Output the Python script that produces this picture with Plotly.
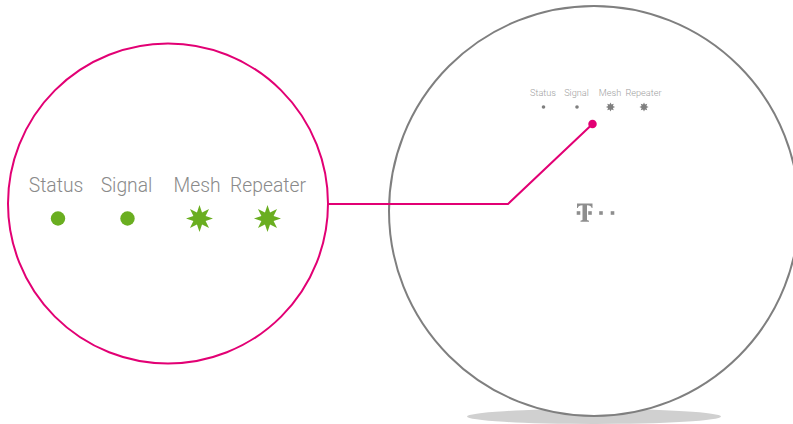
import math
import plotly.graph_objects as go

W, H = 793, 424
MAGENTA = "#e20074"
GREEN = "#6aae20"
GREY = "#7f7f7f"
LABEL = "#8a8a8a"
LABEL_SMALL = "#a0a0a0"
LOGO = "#8e8e8e"

labels = ["Status", "Signal", "Mesh", "Repeater"]
big_label_x = [56, 126.5, 197, 268]
big_label_y = 187.5
big_icon_x = [58, 127.5, 199.5, 267.5]
big_icon_y = 218.5
small_label_x = [543, 576.5, 610, 643.5]
small_label_y = 94
small_icon_x = [543.5, 577, 610.5, 644]
small_icon_y = 107
icon_kinds = ["dot", "dot", "star", "star"]

left_circle = (168, 203.5, 160)
right_circle = (594, 211, 205)
shadow = (594, 416.5, 127, 7.5)
leader_x = [328, 508, 592.5]
leader_y = [204, 204, 124]
logo_dots_x = [578.5, 590, 601, 612.5]
logo_dot_y = 213


def star(cx, cy, ro, ri, n=8):
    pts = []
    for i in range(2 * n):
        r = ro if i % 2 == 0 else ri
        a = -math.pi / 2 + i * math.pi / n
        pts.append(f"{cx + r * math.cos(a):.2f},{cy + r * math.sin(a):.2f}")
    return "M" + "L".join(pts) + "Z"


def circle(cx, cy, r, **kw):
    return dict(type="circle", xref="x", yref="y", layer="below",
                x0=cx - r, x1=cx + r, y0=cy - r, y1=cy + r, **kw)


shapes = [
    dict(type="circle", xref="x", yref="y", layer="below",
         x0=shadow[0] - shadow[2], x1=shadow[0] + shadow[2],
         y0=shadow[1] - shadow[3], y1=shadow[1] + shadow[3],
         fillcolor="#d0d0d0", line_width=0),
    circle(*right_circle, fillcolor="white", line=dict(color=GREY, width=2)),
    circle(*left_circle, fillcolor="white", line=dict(color=MAGENTA, width=2)),
]

for x, kind in zip(big_icon_x, icon_kinds):
    if kind == "dot":
        shapes.append(circle(x, big_icon_y, 7.2, fillcolor=GREEN, line_width=0))
    else:
        shapes.append(dict(type="path", layer="below", path=star(x, big_icon_y, 13.5, 6.6),
                           fillcolor=GREEN, line_width=0))

for x, kind in zip(small_icon_x, icon_kinds):
    if kind == "dot":
        shapes.append(circle(x, small_icon_y, 1.8, fillcolor=GREY, line_width=0))
    else:
        shapes.append(dict(type="path", layer="below", path=star(x, small_icon_y, 4.6, 2.6),
                           fillcolor=GREY, line_width=0))

# T logo
shapes.append(dict(type="path", layer="below",
                   path="M577,203.5 L592.5,203.5 L592.5,208 L591.7,208 C591.2,206 590,205.2 587,205.2 "
                        "L587,220 L589,220.8 L589,221.8 L580.5,221.8 L580.5,220.8 L582.5,220 L582.5,205.2 "
                        "C579.5,205.2 578.3,206 577.8,208 L577,208 Z",
                   fillcolor=LOGO, line_width=0))
for x in logo_dots_x:
    shapes.append(dict(type="rect", layer="below",
                       x0=x - 1.8, x1=x + 1.8, y0=logo_dot_y - 1.8, y1=logo_dot_y + 1.8,
                       fillcolor=LOGO, line_width=0))

fig = go.Figure()
fig.add_trace(go.Scatter(x=leader_x, y=leader_y, mode="lines",
                         line=dict(color=MAGENTA, width=2), hoverinfo="skip"))
fig.add_trace(go.Scatter(x=leader_x[-1:], y=leader_y[-1:], mode="markers",
                         marker=dict(color=MAGENTA, size=8.5), hoverinfo="skip"))
fig.add_trace(go.Scatter(x=big_label_x, y=[big_label_y] * 4, mode="text", text=labels,
                         textfont=dict(family="Roboto", size=19.3, color=LABEL, weight=300),
                         textposition="middle center", hoverinfo="skip"))
fig.add_trace(go.Scatter(x=small_label_x, y=[small_label_y] * 4, mode="text", text=labels,
                         textfont=dict(family="Roboto", size=9.2, color=LABEL_SMALL, weight=300),
                         textposition="middle center", hoverinfo="skip"))

fig.update_layout(
    width=W, height=H, margin=dict(l=0, r=0, t=0, b=0), showlegend=False,
    paper_bgcolor="white", plot_bgcolor="white", shapes=shapes,
    xaxis=dict(range=[0, W], visible=False, fixedrange=True),
    yaxis=dict(range=[H, 0], visible=False, fixedrange=True),
)
fig.write_html("out.html", config=dict(displayModeBar=False),
               post_script="document.body.style.margin='0';document.body.style.overflow='hidden';")
